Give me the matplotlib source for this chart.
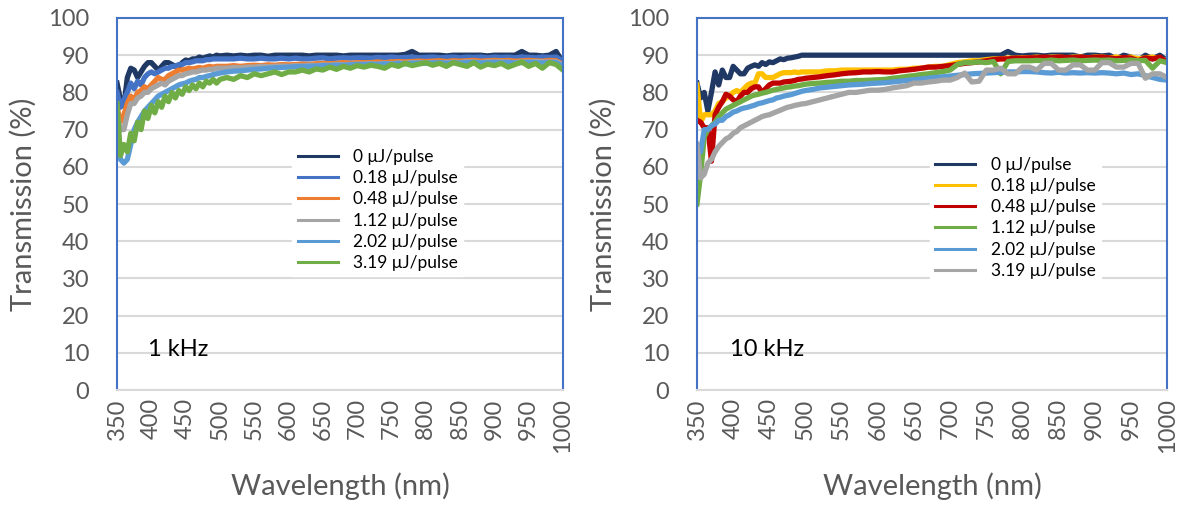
import matplotlib
matplotlib.use("Agg")
import matplotlib.pyplot as plt

plt.rcParams['font.family'] = ['Lato', 'DejaVu Sans']

# wavelength grid (nm): 5 nm steps up to 500, then 10 nm steps
wavelength = list(range(350, 501, 5)) + list(range(510, 1001, 10))

labels = ["0 μJ/pulse", "0.18 μJ/pulse", "0.48 μJ/pulse",
          "1.12 μJ/pulse", "2.02 μJ/pulse", "3.19 μJ/pulse"]

colors_1k = ["#1F3864", "#4472C4", "#ED7D31", "#A5A5A5", "#5B9BD5", "#70AD47"]
colors_10k = ["#1F3864", "#FFC000", "#C00000", "#70AD47", "#5B9BD5", "#A5A5A5"]

x_ticks = [350, 400, 450, 500, 550, 600, 650, 700, 750, 800, 850, 900, 950, 1000]
y_ticks = [0, 10, 20, 30, 40, 50, 60, 70, 80, 90, 100]

## 1 kHz
t1k_0 = [82.5, 78, 76.5, 84, 86.5, 86, 84, 85.5, 87, 88, 88, 87, 86, 87, 88, 88, 87.5, 87, 86.8, 88,
         88.7, 88.5, 89, 89, 89.5, 89.2, 89.5, 89.8, 89.5, 90, 89.8,
         90, 89.8, 90, 89.8, 90, 90, 89.7, 90, 90, 90,
         90, 90, 89.8, 90, 90, 90, 90, 89.8, 90, 90,
         90, 90, 90, 90, 90, 90, 90.2, 91, 90, 90,
         90, 90, 89.8, 90, 90, 90, 90, 90, 89.8, 90,
         90, 90, 90, 91, 90, 90, 89.8, 90, 91, 88]
t1k_018 = [80, 76, 78, 80, 82.5, 81, 83, 82, 84, 85, 85.5, 85, 85.5, 86, 86.5, 86.5, 87, 87, 87.5, 87.5,
           88, 88, 88.2, 88.5, 88.5, 88.5, 88.8, 88.8, 89, 89, 89,
           89, 89, 89.2, 89, 89, 89.2, 89, 89, 89.2, 89,
           89.2, 89, 89, 89.2, 89.3, 89, 89.2, 89.3, 89.2, 89.3,
           89.3, 89.2, 89.4, 89.3, 89.5, 89.3, 89.4, 89.5, 89.3, 89.4,
           89.5, 89.3, 89.4, 89.5, 89.3, 89.5, 89.4, 89.5, 89.3, 89.5,
           89.4, 89.5, 89.3, 89.5, 89.4, 89.3, 89.5, 89.4, 89.5, 88.5]
t1k_048 = [76, 72, 74, 77, 79, 78, 80, 80.5, 81.5, 81, 82, 83, 84, 83.5, 83.5, 84.5, 85, 85.5, 86, 86,
           86.2, 86.5, 86.3, 86.5, 86.7, 86.5, 86.8, 87, 86.8, 87, 87,
           87, 87.2, 87, 87.2, 87.3, 87.2, 87.4, 87.3, 87.5, 87.4,
           87.5, 87.6, 87.5, 87.7, 87.8, 87.7, 87.8, 88, 87.8, 88,
           88, 88, 88.2, 88, 88.2, 88.3, 88.2, 88.3, 88.4, 88.3,
           88.4, 88.5, 88.3, 88.5, 88.4, 88.5, 88.6, 88.4, 88.5, 88.6,
           88.5, 88.6, 88.4, 88.5, 88.6, 88.5, 88.4, 88.6, 88.5, 87.5]
t1k_112 = [74, 70, 70, 74, 77, 77, 78.5, 79, 80, 80, 81, 81.5, 82, 82.5, 82, 83, 83.5, 84, 84.5, 84.5,
           85, 85.2, 85.5, 85.5, 85.8, 86, 86, 86.2, 86.2, 86.5, 86.5,
           86.5, 86.7, 86.6, 86.8, 86.8, 87, 86.9, 87, 87.1, 87,
           87.2, 87.1, 87.3, 87.2, 87.4, 87.3, 87.5, 87.4, 87.5, 87.6,
           87.6, 87.7, 87.6, 87.8, 87.7, 87.9, 87.8, 88, 87.9, 88,
           88, 87.9, 88, 88.1, 88, 88.2, 88.1, 88, 88.2, 88.1,
           88.2, 88.1, 88, 88.2, 88.1, 88.3, 88.2, 88.1, 88.2, 87.3]
t1k_202 = [70, 62, 61, 62, 66, 70, 72, 73.5, 75, 76, 77, 78, 79, 79.5, 80, 80.5, 81, 81.5, 82, 82.3,
           82.5, 83, 83.3, 83.5, 84, 84, 84.3, 84.5, 84.8, 85, 85.2,
           85.5, 85.7, 85.8, 86, 86.2, 86.3, 86.5, 86.6, 86.7, 86.8,
           86.9, 87, 87, 87.1, 87.2, 87.2, 87.3, 87.3, 87.4, 87.5,
           87.5, 87.6, 87.5, 87.7, 87.6, 87.8, 87.7, 87.8, 87.9, 87.8,
           87.9, 88, 87.8, 88, 87.9, 88, 88.1, 87.9, 88, 88.1,
           88, 88.1, 87.9, 88, 88.1, 88, 87.9, 88.1, 88, 87]
t1k_319 = [77, 63, 66, 64, 69, 67, 72, 70, 75, 73, 76.5, 74.5, 77.5, 76, 79, 77.5, 80, 78.5, 80.5, 79.5,
           81.5, 80.5, 82, 81, 82.5, 81.5, 83, 82.5, 83.5, 82.5, 83.5,
           84, 83.5, 84.5, 84, 85, 84.5, 85, 85.5, 84.8, 85.5,
           85.5, 86, 85.5, 86.3, 86, 86.8, 86.2, 87, 86.5, 87.2,
           86.8, 87.3, 87, 86.5, 87.5, 87, 87.8, 87.2, 87.6, 88,
           87.3, 87.8, 87, 88, 87.5, 87, 88, 86.8, 87.6, 87.2,
           87.8, 86.8, 87.5, 88.2, 87, 87.8, 86.5, 88, 87.5, 86]

## 10 kHz
t10k_0 = [82.5, 78.5, 80, 75, 80, 85.5, 82, 86, 84, 84, 87, 86, 85, 85, 86.5, 87, 87.4, 87, 88, 87.5,
          88.2, 88, 88.5, 89, 88.8, 89.2, 89.3, 89.5, 89.7, 90, 90,
          90, 90, 90, 90, 90, 90, 90, 90, 90, 90,
          90, 90, 90, 90, 90, 90, 90, 90, 90, 90,
          90, 90, 90, 90, 90, 90, 90, 91, 90, 89.8,
          90, 90, 89.8, 90, 90, 90, 90, 89.5, 90, 90,
          89.8, 90, 89, 90, 89.5, 88.5, 90, 89, 90, 88.5]
t10k_018 = [82, 72, 74, 74, 74, 75, 77, 77.5, 78.5, 79, 80, 80.5, 80, 81, 82, 82.5, 82.5, 85, 85, 84,
            84, 84, 84.5, 85, 85.3, 85.3, 85.3, 85.5, 85.3, 85.5, 85.5,
            85.5, 85.5, 85.8, 85.8, 86, 86, 86, 86, 86, 86,
            86, 86, 86.2, 86.2, 86.5, 86.5, 86.8, 87, 87, 87.5,
            88, 88.2, 88.5, 88.5, 88.8, 89, 89, 89.2, 89.2, 89.3,
            89.3, 89.5, 89.3, 89.5, 89.5, 89.3, 89.5, 89.5, 89.3, 89.5,
            89.5, 89.3, 89.5, 89.2, 89.5, 89, 89.3, 89.5, 89, 88.5]
t10k_048 = [72.5, 72, 70.5, 70.5, 61.5, 74, 76, 77.5, 79.5, 79, 78, 77.5, 79, 80, 80, 81, 81.5, 81.5, 80, 81,
            82, 82.5, 82.5, 82.5, 82.8, 82.9, 83, 83.2, 83.5, 83.6, 83.8,
            84, 84.2, 84.5, 84.7, 85, 85.2, 85.3, 85.5, 85.5, 85.6,
            85.5, 85.5, 85.8, 86, 86.2, 86.5, 86.8, 86.8, 87, 87.2,
            87.5, 87.8, 88, 88.2, 88.5, 88.8, 89, 89, 89.2, 89.2,
            89.3, 89.3, 89.5, 89.3, 89.5, 89.4, 89.3, 89.5, 89.3, 89.4,
            89.5, 89.3, 89, 89.4, 89.2, 88.5, 89.3, 89, 89.5, 88]
t10k_112 = [50, 58, 68, 70, 71, 72, 73.5, 74.5, 75.5, 76, 76.5, 77, 77.5, 78, 78.5, 79, 79.3, 79.5, 79.8, 80,
            80.3, 80.6, 80.8, 81, 81.2, 81.4, 81.5, 81.7, 81.8, 82, 82.2,
            82.4, 82.5, 82.7, 82.8, 83, 83, 83.2, 83.2, 83.3, 83.4,
            83.5, 83.8, 84, 84.3, 84.5, 84.8, 85, 85.3, 85.6, 86,
            87.5, 88, 88, 88.2, 88, 88.3, 85, 88.3, 88.5, 88.5,
            88.5, 88.6, 88.5, 88.7, 88.5, 88.6, 88.7, 88.5, 88.6, 88.7,
            88.6, 88.7, 88.5, 88.6, 88.7, 88.5, 88.6, 86.5, 88.5, 88]
t10k_202 = [66, 64, 70, 70, 71, 71.5, 72.5, 72.5, 73.5, 74, 74.7, 75, 75.5, 75.8, 76, 76.3, 76.6, 77, 77.2, 77.5,
            77.8, 78, 78.5, 78.7, 79, 79.2, 79.4, 79.7, 80, 80.3, 80.5,
            80.8, 81.2, 81.4, 81.6, 81.8, 82, 82.1, 82.2, 82.4, 82.5,
            82.6, 82.8, 83, 83.2, 83.4, 83.6, 83.8, 84, 84.2, 84.4,
            84.6, 84.8, 85, 85.1, 85.2, 85.3, 85.4, 85.5, 85.5, 85.6,
            85.6, 85.5, 85.3, 85.2, 85.4, 85.2, 85.3, 85.2, 85.3, 85.2,
            85.3, 85.2, 85, 85.2, 84.8, 85, 84.5, 84, 83.5, 83.3]
t10k_319 = [66, 57, 58, 61, 62, 64, 65.5, 66.5, 67.5, 68, 69, 69.5, 70.5, 71, 71.5, 72, 72.5, 73, 73.5, 73.8,
            74, 74.4, 74.8, 75.2, 75.6, 76, 76.2, 76.5, 76.7, 76.9, 77,
            77.5, 78, 78.5, 79, 79.5, 80, 80, 80.3, 80.6, 80.6,
            80.8, 81.2, 81.5, 81.8, 82.5, 82.5, 82.8, 83, 83.3, 83.3,
            84, 85.2, 82.8, 83, 86, 86, 86.5, 85, 85, 86.8,
            86.8, 86, 87.8, 87.8, 86, 86, 87.4, 87.4, 86, 86,
            88, 88, 86.8, 86.8, 87.8, 87.8, 83.8, 85, 85, 84]

series_1k = [t1k_0, t1k_018, t1k_048, t1k_112, t1k_202, t1k_319]
series_10k = [t10k_0, t10k_018, t10k_048, t10k_112, t10k_202, t10k_319]

fig = plt.figure(figsize=(11.87, 5.14), dpi=100)
ax1 = fig.add_axes([0.0986, 0.2412, 0.3757, 0.7238])
ax2 = fig.add_axes([0.5872, 0.2412, 0.3960, 0.7238])

def style_axes(ax, series, colors, tag, leg_anchor):
    for vals, c, lab in zip(series, colors, labels):
        ax.plot(wavelength, vals, color=c, lw=3.8, label=lab)
    ax.set_xlim(350, 1000)
    ax.set_ylim(0, 100)
    ax.set_xticks(x_ticks)
    ax.set_yticks(y_ticks)
    ax.set_xticklabels([str(v) for v in x_ticks], rotation=90)
    ax.tick_params(length=0, labelsize=17, labelcolor="#595959")
    ax.tick_params(axis="y", pad=20)
    ax.tick_params(axis="x", pad=6)
    ax.grid(axis="y", color="#D9D9D9", lw=1.5)
    ax.set_axisbelow(True)
    for s in ["top", "left", "right"]:
        ax.spines[s].set_color("#4472C4")
        ax.spines[s].set_linewidth(1.5)
    ax.spines["bottom"].set_color("#D9D9D9")
    ax.spines["bottom"].set_linewidth(1.5)
    ax.set_ylabel("Transmission (%)", fontsize=21, color="#595959", labelpad=8)
    ax.set_xlabel("Wavelength (nm)", fontsize=21, color="#595959", labelpad=14)
    ax.text(0.07, 0.11, tag, transform=ax.transAxes, fontsize=17, va="center")
    leg = ax.legend(loc="upper left", bbox_to_anchor=leg_anchor, bbox_transform=fig.transFigure,
                    frameon=True, fancybox=False, edgecolor="white", framealpha=1.0,
                    fontsize=12.5, handlelength=2.3, labelspacing=0.3, borderpad=0.3,
                    handletextpad=0.9)
    for line in leg.get_lines():
        line.set_linewidth(2.2)

style_axes(ax1, series_1k, colors_1k, "1 kHz", (0.239, 0.737))
style_axes(ax2, series_10k, colors_10k, "10 kHz", (0.776, 0.722))

fig.savefig("out.png", dpi=100)
